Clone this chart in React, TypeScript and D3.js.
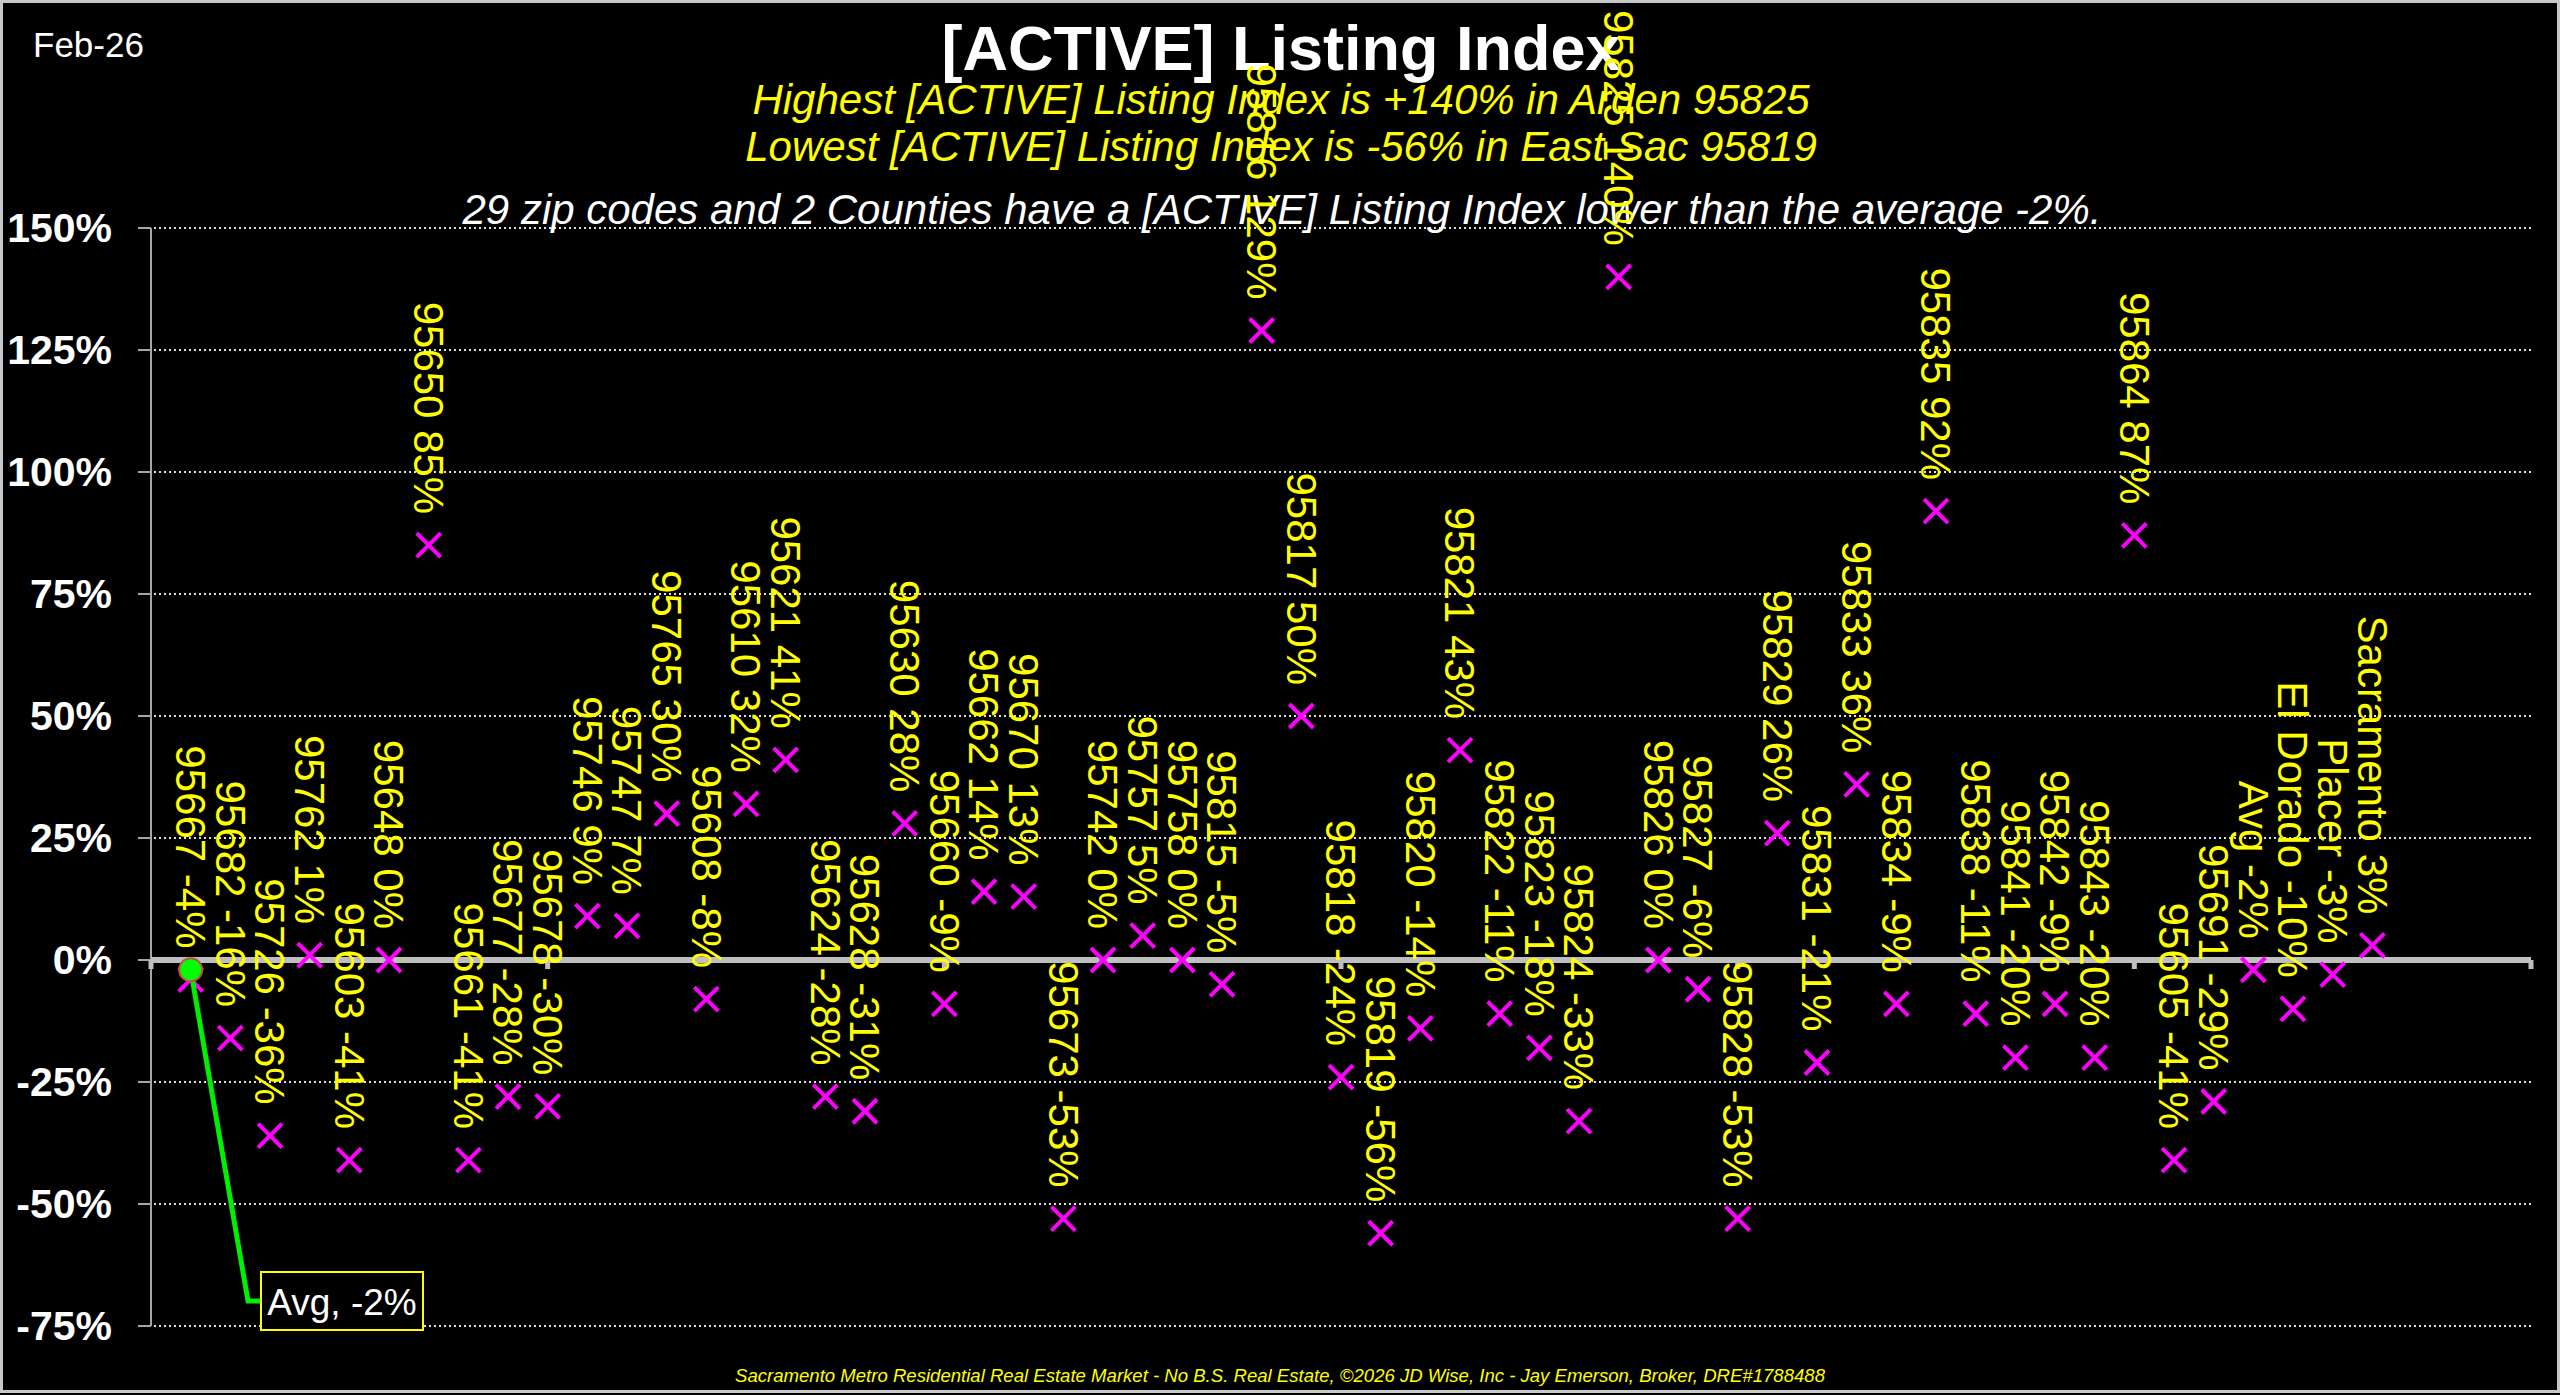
import React from "react";
import * as d3 from "d3";

const zipLabels: string[] = [
  "95667", "95682", "95726", "95762", "95603", "95648", "95650", "95661", "95677", "95678",
  "95746", "95747", "95765", "95608", "95610", "95621", "95624", "95628", "95630", "95660",
  "95662", "95670", "95673", "95742", "95757", "95758", "95815", "95816", "95817", "95818",
  "95819", "95820", "95821", "95822", "95823", "95824", "95825", "95826", "95827", "95828",
  "95829", "95831", "95833", "95834", "95835", "95838", "95841", "95842", "95843", "95864",
  "95605", "95691", "Avg", "El Dorado", "Placer", "Sacramento",
];

const indexValues: number[] = [
  -4, -16, -36, 1, -41, 0, 85, -41, -28, -30,
  9, 7, 30, -8, 32, 41, -28, -31, 28, -9,
  14, 13, -53, 0, 5, 0, -5, 129, 50, -24,
  -56, -14, 43, -11, -18, -33, 140, 0, -6, -53,
  26, -21, 36, -9, 92, -11, -20, -9, -20, 87,
  -41, -29, -2, -10, -3, 3,
];

const yTicks: number[] = [150, 125, 100, 75, 50, 25, 0, -25, -50, -75];
const xTicks: number[] = [0, 10, 20, 30, 40, 50, 60];
const avgValue = -2;
const avgIndex = 1;

const W = 2560;
const H = 1395;

export default function App() {
  const x = d3.scaleLinear().domain([0, 60]).range([151, 2531]);
  const y = d3.scaleLinear().domain([-75, 150]).range([1326, 228]);
  const fmt = (v: number) => `${v}%`;
  const gridTicks = yTicks.filter((t) => t !== 0);
  const m = 12;

  const leader = d3.line()([
    [x(avgIndex), y(avgValue)],
    [248, 1301],
    [261, 1301],
  ]);

  return (
    <svg
      width={W}
      height={H}
      style={{ position: "fixed", left: 0, top: 0, background: "#000" }}
      fontFamily="'Liberation Sans', Arial, sans-serif"
    >
      <rect x={1.5} y={1.5} width={W - 3} height={H - 5} fill="#000" stroke="#c8c8c8" strokeWidth={3} />

      {/* gridlines */}
      {gridTicks.map((t) => (
        <line
          key={`g${t}`}
          x1={x(0) + 3}
          x2={x(60)}
          y1={y(t)}
          y2={y(t)}
          stroke="#e0e0e0"
          strokeWidth={2}
          strokeDasharray="2 3"
        />
      ))}

      {/* y axis */}
      <line x1={x(0)} x2={x(0)} y1={y(150)} y2={y(-75)} stroke="#a6a6a6" strokeWidth={2} />
      {yTicks.map((t) => (
        <g key={`yt${t}`}>
          <line x1={x(0) - 13} x2={x(0)} y1={y(t)} y2={y(t)} stroke="#a6a6a6" strokeWidth={2} />
          <text
            x={112}
            y={y(t) + 14}
            textAnchor="end"
            fill="#fff"
            fontWeight="bold"
            fontSize={41}
          >
            {fmt(t)}
          </text>
        </g>
      ))}

      {/* zero axis */}
      <line x1={x(0)} x2={x(60)} y1={y(0)} y2={y(0)} stroke="#bfbfbf" strokeWidth={6} />
      {xTicks.map((t) => (
        <line
          key={`xt${t}`}
          x1={x(t)}
          x2={x(t)}
          y1={y(0)}
          y2={y(0) + 9}
          stroke="#bfbfbf"
          strokeWidth={5}
        />
      ))}

      {/* titles */}
      <text x={33} y={57} fill="#fff" fontSize={35}>Feb-26</text>
      <text x={1281} y={70} textAnchor="middle" fill="#fff" fontWeight="bold" fontSize={63}>
        [ACTIVE] Listing Index
      </text>
      <text x={1281} y={114} textAnchor="middle" fill="#ffff00" fontStyle="italic" fontSize={42}>
        Highest [ACTIVE] Listing Index is +140% in Arden 95825
      </text>
      <text x={1281} y={161} textAnchor="middle" fill="#ffff00" fontStyle="italic" fontSize={42}>
        Lowest [ACTIVE] Listing Index is -56% in East Sac 95819
      </text>
      <text x={1282} y={224} textAnchor="middle" fill="#fff" fontStyle="italic" fontSize={42}>
        29 zip codes and 2 Counties have a [ACTIVE] Listing Index lower than the average -2%.
      </text>
      <text
        x={1280}
        y={1382}
        textAnchor="middle"
        fill="#ffff00"
        fontStyle="italic"
        fontSize={19}
        textLength={1090}
        lengthAdjust="spacingAndGlyphs"
      >
        Sacramento Metro Residential Real Estate Market - No B.S. Real Estate, ©2026 JD Wise, Inc - Jay Emerson, Broker, DRE#1788488
      </text>

      {/* markers */}
      {indexValues.map((v, i) => {
        const cx = x(i + 1);
        const cy = y(v);
        return (
          <path
            key={`m${i}`}
            d={`M${cx - m},${cy - m}L${cx + m},${cy + m}M${cx - m},${cy + m}L${cx + m},${cy - m}`}
            stroke="#ff00ff"
            strokeWidth={4}
            fill="none"
          />
        );
      })}

      {/* labels */}
      {indexValues.map((v, i) => {
        const cx = x(i + 1);
        const ty = y(v) - 31;
        return (
          <text
            key={`l${i}`}
            transform={`translate(${cx},${ty}) rotate(90)`}
            textAnchor="end"
            dy="0.35em"
            fill="#ffff00"
            fontSize={42}
          >
            {`${zipLabels[i]} ${fmt(v)}`}
          </text>
        );
      })}

      {/* average callout */}
      <path d={leader ?? ""} stroke="#00ee00" strokeWidth={5} fill="none" />
      <circle cx={x(avgIndex)} cy={y(avgValue)} r={11.5} fill="#00ff00" stroke="#c0504d" strokeWidth={2} />
      <rect x={261} y={1272} width={162} height={58} fill="#000" stroke="#ffff00" strokeWidth={2} />
      <text x={342} y={1315} textAnchor="middle" fill="#fff" fontSize={37}>
        Avg, {fmt(avgValue)}
      </text>
    </svg>
  );
}
